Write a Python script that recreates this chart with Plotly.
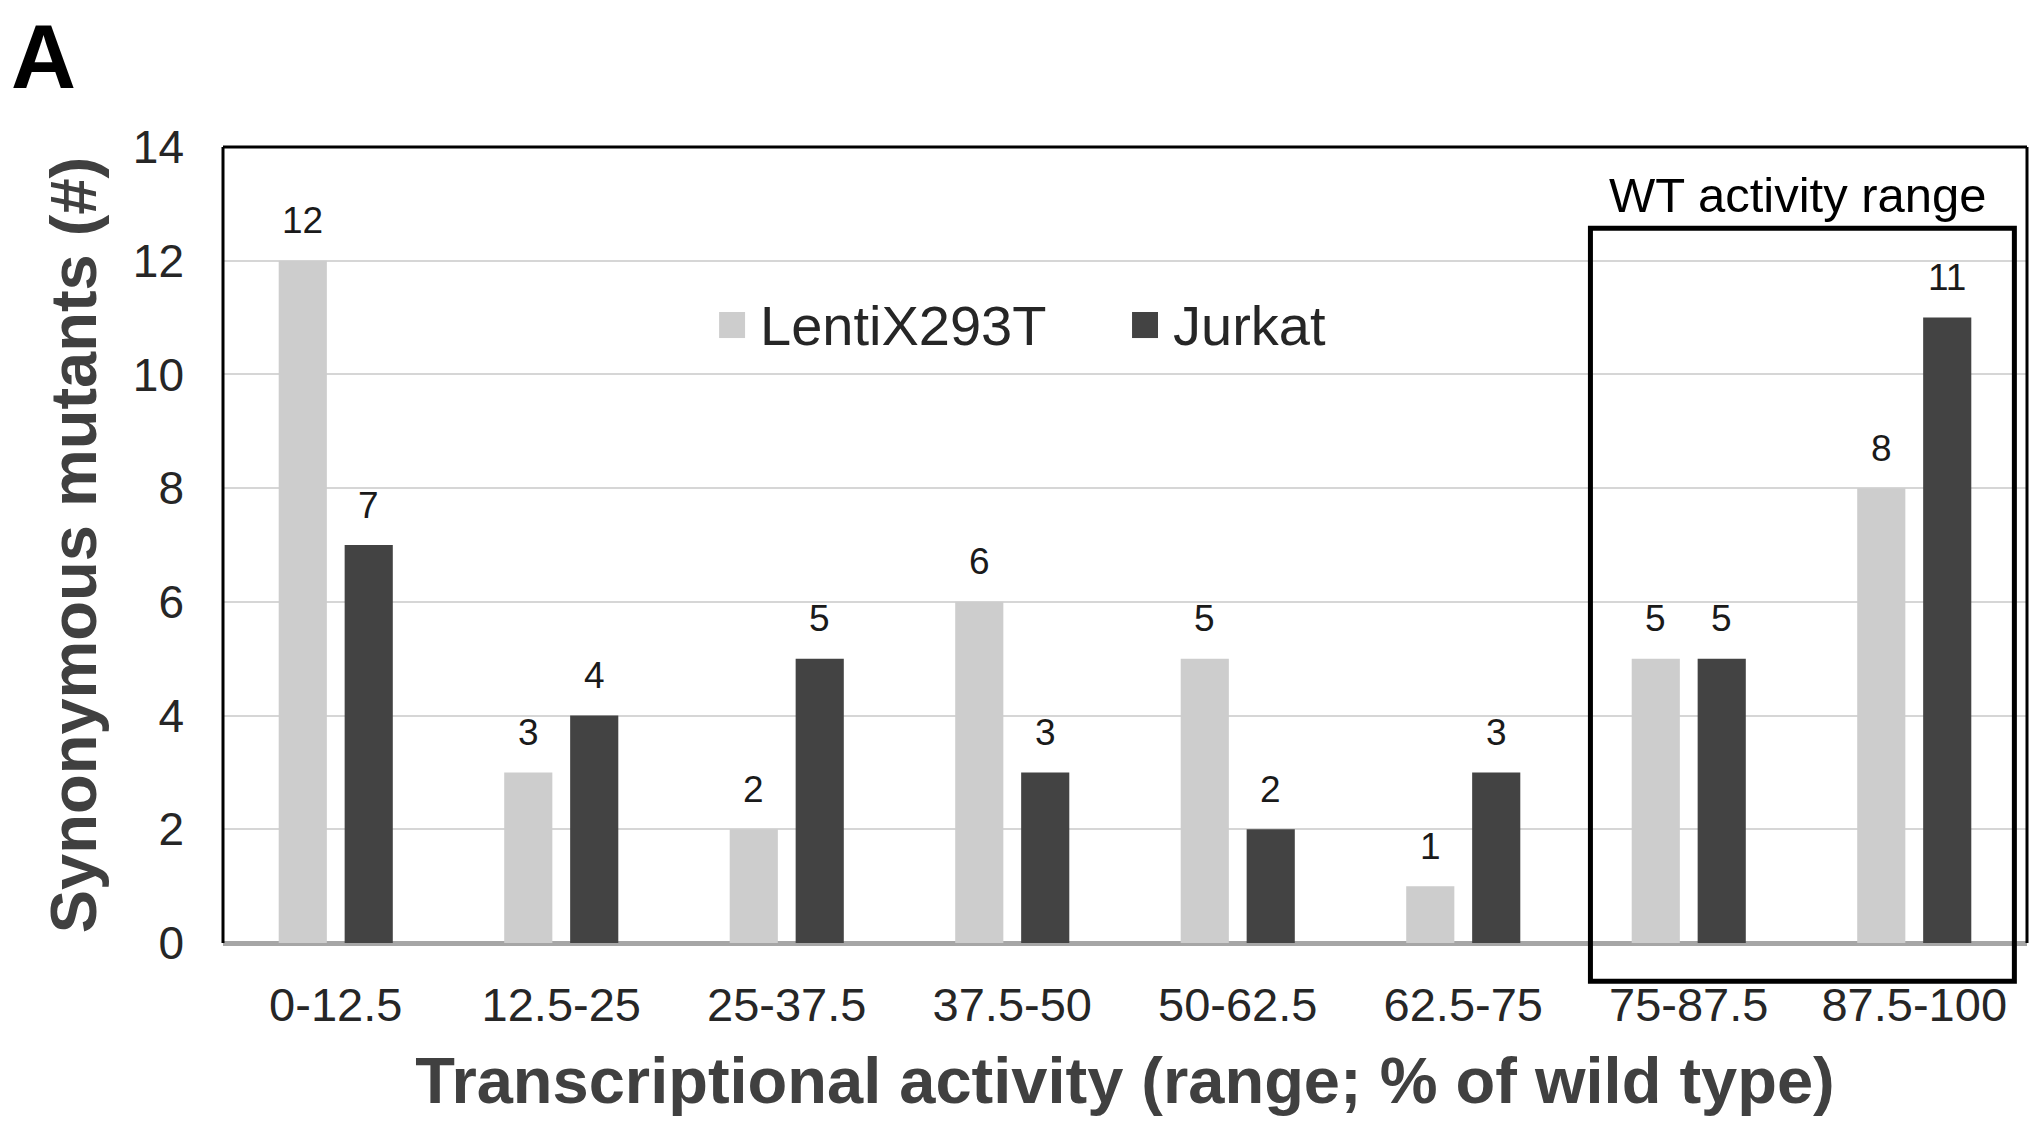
import plotly.graph_objects as go

categories = ["0-12.5", "12.5-25", "25-37.5", "37.5-50", "50-62.5", "62.5-75", "75-87.5", "87.5-100"]
lentix = [12, 3, 2, 6, 5, 1, 5, 8]
jurkat = [7, 4, 5, 3, 2, 3, 5, 11]
series_names = ["LentiX293T", "Jurkat"]
y_ticks = [0, 2, 4, 6, 8, 10, 12, 14]

LIGHT = "#cdcdcd"
DARK = "#434343"
FONT = "Liberation Sans, Arial, Helvetica, sans-serif"

fig = go.Figure()
fig.add_trace(go.Bar(x=categories, y=lentix, name=series_names[0], marker=dict(color=LIGHT, line=dict(width=0)), showlegend=False))
fig.add_trace(go.Bar(x=categories, y=jurkat, name=series_names[1], marker=dict(color=DARK, line=dict(width=0)), showlegend=False))

annotations = []
# value labels above bars
for vals, shift in ((lentix, -33), (jurkat, 33)):
    for c, v in zip(categories, vals):
        annotations.append(dict(x=c, y=v, xref="x", yref="y", text=str(v), showarrow=False,
                                xshift=shift, yshift=40, yanchor="middle",
                                font=dict(family=FONT, size=37, color="#1a1a1a")))

# panel letter
annotations.append(dict(x=-0.1185, y=1.113, xref="paper", yref="paper", text="<b>A</b>", showarrow=False,
                        xanchor="left", yanchor="middle", font=dict(family=FONT, size=90, color="black")))
# WT label
annotations.append(dict(x=0.873, y=0.9397, xref="paper", yref="paper", text="WT activity range", showarrow=False,
                        xanchor="center", yanchor="middle", font=dict(family=FONT, size=49, color="black")))
# manual legend
annotations.append(dict(x=0.2966, y=0.776, xref="paper", yref="paper", text=series_names[0], showarrow=False,
                        xanchor="left", yanchor="middle", font=dict(family=FONT, size=56, color="#262626")))
annotations.append(dict(x=0.5255, y=0.776, xref="paper", yref="paper", text=series_names[1], showarrow=False,
                        xanchor="left", yanchor="middle", font=dict(family=FONT, size=56, color="#262626")))

shapes = [
    # legend squares
    dict(type="rect", xref="paper", yref="paper", x0=0.275, x1=0.2894, y0=0.760, y1=0.7927,
         fillcolor=LIGHT, line=dict(width=0)),
    dict(type="rect", xref="paper", yref="paper", x0=0.5039, x1=0.5183, y0=0.760, y1=0.7927,
         fillcolor=DARK, line=dict(width=0)),
    # frame: left, top, right
    dict(type="line", xref="paper", yref="paper", x0=0, x1=0, y0=0, y1=1, line=dict(color="black", width=3)),
    dict(type="line", xref="paper", yref="paper", x0=0, x1=1, y0=1, y1=1, line=dict(color="black", width=3)),
    dict(type="line", xref="paper", yref="paper", x0=1, x1=1, y0=0, y1=1, line=dict(color="black", width=3)),
    # WT activity range box
    dict(type="rect", xref="paper", yref="paper", x0=0.758, x1=0.993, y0=-0.048, y1=0.898,
         fillcolor="rgba(0,0,0,0)", line=dict(color="black", width=5)),
]

# page body has an 8px margin, so the figure is sized/offset to land on the target pixels
fig.update_layout(
    width=2024, height=1114,
    margin=dict(l=215, r=5, t=139, b=179, autoexpand=False),
    paper_bgcolor="white", plot_bgcolor="white",
    barmode="group", bargap=0.415, bargroupgap=0.27,
    font=dict(family=FONT, color="#262626"),
    annotations=annotations, shapes=shapes,
    xaxis=dict(
        type="category", range=[-0.5, 7.5], showgrid=False, showline=False, zeroline=False,
        ticks="", ticklabelstandoff=30, tickfont=dict(family=FONT, size=47, color="#262626"),
        title=dict(text="<b>Transcriptional activity (range; % of wild type)</b>", standoff=27,
                   font=dict(family=FONT, size=65, color="#404040")),
        automargin=False,
    ),
    yaxis=dict(
        range=[0, 14], tickvals=y_ticks, showgrid=True, gridcolor="#d6d6d6", gridwidth=2,
        zeroline=True, zerolinecolor="#a6a6a6", zerolinewidth=5, showline=False,
        ticks="", ticklabelstandoff=38, tickfont=dict(family=FONT, size=46, color="#262626"),
        title=dict(text="<b>Synonymous mutants (#)</b>", standoff=15,
                   font=dict(family=FONT, size=65, color="#404040")),
        automargin=False,
    ),
)

fig.write_html("out.html")
